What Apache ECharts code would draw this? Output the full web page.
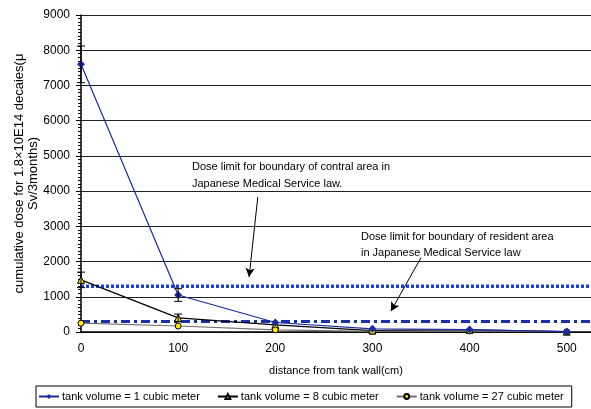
<!DOCTYPE html>
<html>
<head>
<meta charset="utf-8">
<script src="https://cdn.jsdelivr.net/npm/echarts@6/dist/echarts.min.js"></script>
<style>
  html, body { margin: 0; padding: 0; background: #fff; }
  #main { width: 591px; height: 409px; }
</style>
</head>
<body>
<div id="main"></div>
<script>
// distance from tank wall (cm)
const distances = [0, 100, 200, 300, 400, 500];
// cumulative dose (uSv/3months)
const vol1 = [7600, 1050, 270, 90, 70, 10];
const vol8 = [1480, 400, 200, 40, 60, 10];
const vol27 = [250, 170, 60, 20, 30, 5];
// error bar half-widths
const err1 = [520, 180, 0, 0, 0, 0];
const err8 = [220, 110, 0, 0, 0, 0];
const seriesNames = ['tank volume = 1 cubic meter', 'tank volume = 8 cubic meter', 'tank volume = 27 cubic meter'];
// dose limits
const limitControl = 1300;
const limitResident = 300;

const font = "'Liberation Sans', Arial, sans-serif";

function pairs(vals) {
  return distances.map((d, i) => [d, vals[i]]);
}
function errData(vals, errs) {
  const out = [];
  for (let i = 0; i < vals.length; i++) {
    if (errs[i] > 0) out.push([distances[i], vals[i] - errs[i], vals[i] + errs[i]]);
  }
  return out;
}
function renderErr(params, api) {
  const top = api.coord([api.value(0), api.value(2)]);
  const bot = api.coord([api.value(0), api.value(1)]);
  const w = 4;
  const st = { stroke: '#000', lineWidth: 1 };
  return {
    type: 'group',
    children: [
      { type: 'line', shape: { x1: top[0], y1: top[1], x2: bot[0], y2: bot[1] }, style: st },
      { type: 'line', shape: { x1: top[0] - w, y1: top[1], x2: top[0] + w, y2: top[1] }, style: st },
      { type: 'line', shape: { x1: bot[0] - w, y1: bot[1], x2: bot[0] + w, y2: bot[1] }, style: st }
    ]
  };
}

const chart = echarts.init(document.getElementById('main'));
chart.setOption({
  animation: false,
  textStyle: { fontFamily: font },
  grid: { left: 81, right: 0, top: 15, bottom: 77, containLabel: false, outerBoundsMode: 'none' },
  legend: {
    data: seriesNames,
    left: 36,
    top: 386,
    width: 550,
    padding: [5, 8, 5, 2],
    itemGap: 17,
    itemWidth: 20,
    itemHeight: 6,
    borderColor: '#000',
    borderWidth: 1,
    textStyle: { fontFamily: font, fontSize: 11, color: '#000', padding: [0, 0, 0, -2] }
  },
  xAxis: {
    type: 'value',
    min: 0,
    max: 525,
    interval: 100,
    name: 'distance from tank wall(cm)',
    nameLocation: 'middle',
    nameGap: 33,
    nameTextStyle: { fontSize: 11, color: '#000' },
    axisLine: { lineStyle: { color: '#000', width: 1.5 } },
    axisTick: { show: false },
    axisLabel: { showMaxLabel: false, fontSize: 12, color: '#000', margin: 11, formatter: v => String(v) },
    splitLine: { show: false }
  },
  yAxis: {
    type: 'value',
    min: 0,
    max: 9000,
    interval: 1000,
    name: 'cumulative dose for 1.8×10E14 decaies(μ\nSv/3months)',
    nameLocation: 'middle',
    nameGap: 41,
    nameMoveOverlap: false,
    nameTextStyle: { fontSize: 13, color: '#000', lineHeight: 14 },
    axisLine: { show: true, lineStyle: { color: '#000', width: 1.5 } },
    axisTick: { show: true, length: 5, lineStyle: { color: '#000' } },
    minorTick: { show: true, splitNumber: 10, length: 3, lineStyle: { color: '#000' } },
    axisLabel: { fontSize: 12, color: '#000', margin: 11, formatter: v => String(v) },
    splitLine: { lineStyle: { color: '#222', width: 1 } }
  },
  graphic: [
    { type: 'text', left: 192, top: 158, style: { text: 'Dose limit for boundary of contral area in\nJapanese Medical Service law.', font: '11px ' + font, fill: '#000', lineHeight: 17 } },
    { type: 'text', left: 361, top: 229, style: { text: 'Dose limit for boundary of resident area\nin Japanese Medical Service law', font: '11px ' + font, fill: '#000', lineHeight: 16 } }
  ],
  series: [
    {
      name: 'control limit',
      type: 'line',
      data: [[0, limitControl], [525, limitControl]],
      symbol: 'none',
      silent: true,
      lineStyle: { color: '#1c3fd8', width: 3.5, type: [3, 2] },
      z: 1,
      markLine: {
        silent: true,
        symbol: ['none', 'arrow'],
        symbolSize: [7, 9],
        label: { show: false },
        lineStyle: { color: '#000', width: 1, type: 'solid' },
        data: [
          [{ coord: [182, 3830] }, { coord: [173, 1560] }],
          [{ coord: [350, 2110] }, { coord: [319, 590] }]
        ]
      }
    },
    {
      name: 'resident limit',
      type: 'line',
      data: [[0, limitResident], [525, limitResident]],
      symbol: 'none',
      silent: true,
      lineStyle: { color: '#1a2fa8', width: 3, type: [9, 4, 3, 4] },
      z: 1
    },
    {
      name: seriesNames[0],
      type: 'line',
      data: pairs(vol1),
      symbol: 'diamond',
      symbolSize: 8,
      itemStyle: { color: '#1c2aa0' },
      lineStyle: { color: '#1c2aa0', width: 1.2 },
      z: 4
    },
    {
      name: seriesNames[1],
      type: 'line',
      data: pairs(vol8),
      symbol: 'triangle',
      symbolSize: 7,
      itemStyle: { color: '#ffee00', borderColor: '#000', borderWidth: 1 },
      lineStyle: { color: '#000', width: 1.2 },
      z: 3
    },
    {
      name: seriesNames[2],
      type: 'line',
      data: pairs(vol27),
      symbol: 'circle',
      symbolSize: 6,
      itemStyle: { color: '#ffee00', borderColor: '#000', borderWidth: 1 },
      lineStyle: { color: '#707070', width: 1.2 },
      z: 3
    },
    {
      name: 'err1',
      type: 'custom',
      renderItem: renderErr,
      data: errData(vol1, err1),
      silent: true,
      z: 5
    },
    {
      name: 'err8',
      type: 'custom',
      renderItem: renderErr,
      data: errData(vol8, err8),
      silent: true,
      z: 5
    }
  ]
});
</script>
</body>
</html>
